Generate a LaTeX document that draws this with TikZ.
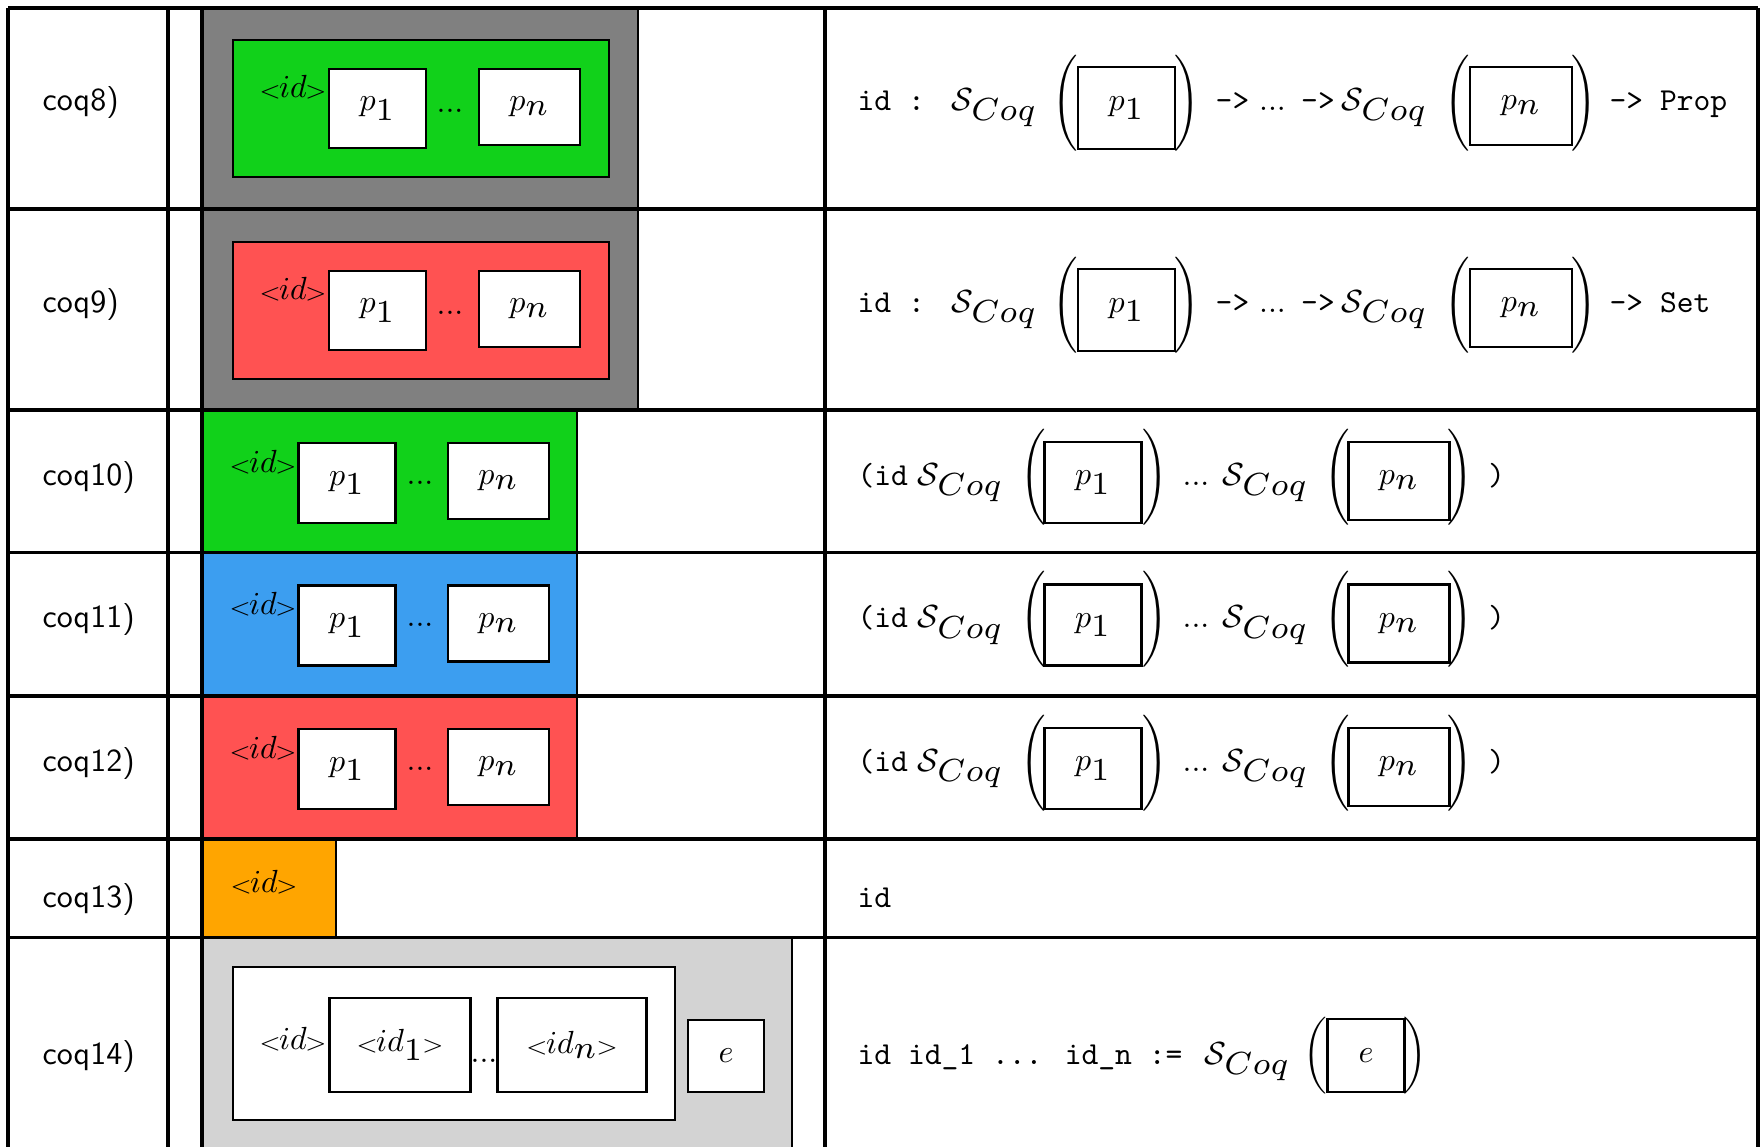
\documentclass[tikz,border=0pt]{standalone}
\usepackage{fontspec}
\usepackage{graphicx}
\definecolor{cgreen}{RGB}{17,209,26}
\definecolor{cred}{RGB}{255,82,82}
\definecolor{cblue}{RGB}{60,158,240}
\definecolor{corange}{RGB}{255,165,0}
\definecolor{cgray}{RGB}{128,128,128}
\definecolor{clight}{RGB}{211,211,211}
\tikzset{
  gridline/.style={line width=0.95pt},
  cbox/.style={draw, line width=0.9pt, inner sep=0pt, rectangle},
  wbox/.style={cbox, fill=white},
  sz/.style 2 args={minimum width=#1*0.3125pt, minimum height=#2*0.3125pt},
  lbl/.style={anchor=base west, inner sep=0pt, font=\sffamily},
  code/.style={anchor=base west, inner sep=0pt, font=\ttfamily},
  codec/.style={anchor=base, inner sep=0pt, font=\ttfamily},
  mth/.style={anchor=base west, inner sep=0pt},
  txt/.style={anchor=base, inner sep=0pt},
  paren/.style={anchor=center, inner sep=0pt},
}
\newcommand{\bsub}[1]{\scalebox{1.43}{$\scriptstyle #1$}}
\newcommand{\SC}{$\mathcal{S}_{\bsub{Coq}}$}
\newcommand{\langl}{\kern-0.8pt\scalebox{1.1}[0.92]{$\scriptstyle <$}\kern-0.6pt}
\newcommand{\rangl}{\kern-0.6pt\scalebox{1.1}[0.92]{$\scriptstyle >$}\kern-0.8pt}
\newcommand{\ID}{\langl$id$\rangl}
\begin{document}
\begin{tikzpicture}[x=0.3125pt, y=-0.3125pt]
\useasboundingbox (0,0) rectangle (1761,1147);
\clip (0,0) rectangle (1761,1147);
\fill[white] (0,0) rectangle (1761,1147);

% rows coq8, coq9
\foreach \R/\c/\k/\t in {8/cgreen/8/Prop, 210/cred/9/Set}{
  \node[cbox, fill=cgray, sz={436}{201}] (outer\k) at (420,\R+100.5) {};
  \node[cbox, fill=\c, sz={376}{137}] (inner\k) at (421,\R+100.5) {};
  \node[txt] (id\k) at (293,\R+89) {\ID};
  \node[wbox, sz={97}{79}] (pa\k) at (377.5,\R+100.5) {$p_{\bsub{1}}$};
  \node[txt] (dots\k) at (450,\R+104) {...};
  \node[wbox, sz={101}{76}] (pb\k) at (529.5,\R+99) {$p_{\bsub{n}}$};
  \node[lbl] (lab\k) at (42,\R+102) {coq\k)};
  % right column
  \node[code] (rid\k) at (857,\R+102) {id :};
  \node[mth] (sa\k) at (951,\R+102) {\SC};
  \node[paren] (lpa\k) at (1065,\R+95) {$\Bigg($};
  \node[wbox, sz={97}{82}] (ra\k) at (1126.5,\R+100) {$p_{\bsub{1}}$};
  \node[paren] (rpa\k) at (1187.5,\R+95) {$\Bigg)$};
  \node[codec] (arA\k) at (1232.5,\R+102) {->};
  \node[txt] (rdots\k) at (1272.5,\R+102) {...};
  \node[codec] (arB\k) at (1318,\R+102) {->};
  \node[mth] (sb\k) at (1341,\R+102) {\SC};
  \node[paren] (lpb\k) at (1457.5,\R+95) {$\Bigg($};
  \node[wbox, sz={102}{78}] (rb\k) at (1521,\R+98) {$p_{\bsub{n}}$};
  \node[paren] (rpb\k) at (1584,\R+95) {$\Bigg)$};
  \node[code] (res\k) at (1609,\R+102) {-> \t};
}

% rows coq10, coq11, coq12
\foreach \R/\c/\k in {410/cgreen/10, 552.5/cblue/11, 696/cred/12}{
  \node[cbox, fill=\c, sz={375}{143}] (box\k) at (389.5,\R+71.5) {};
  \node[txt] (id\k) at (263,\R+62) {\ID};
  \node[wbox, sz={97.5}{80}] (pa\k) at (347,\R+73) {$p_{\bsub{1}}$};
  \node[txt] (dots\k) at (420,\R+74) {...};
  \node[wbox, sz={101}{76}] (pb\k) at (498.5,\R+71) {$p_{\bsub{n}}$};
  \node[lbl] (lab\k) at (42,\R+75) {coq\k)};
  % right column
  \node[code] (rid\k) at (857,\R+75) {(id};
  \node[mth] (sa\k) at (917,\R+75) {\SC};
  \node[paren] (lpa\k) at (1033,\R+67) {$\Bigg($};
  \node[wbox, sz={97.5}{81}] (ra\k) at (1093,\R+72.5) {$p_{\bsub{1}}$};
  \node[paren] (rpa\k) at (1155,\R+67) {$\Bigg)$};
  \node[txt] (rdots\k) at (1196,\R+75) {...};
  \node[mth] (sb\k) at (1222,\R+75) {\SC};
  \node[paren] (lpb\k) at (1337,\R+67) {$\Bigg($};
  \node[wbox, sz={101.5}{78}] (rb\k) at (1399,\R+71) {$p_{\bsub{n}}$};
  \node[paren] (rpb\k) at (1460,\R+67) {$\Bigg)$};
  \node[codec] (close\k) at (1496.5,\R+75) {)};
}

% row coq13
\node[cbox, fill=corange, sz={134}{98.5}] (box13) at (269,888.25) {};
\node[txt] (id13) at (264,892) {\ID};
\node[lbl] (lab13) at (42,907) {coq13)};
\node[code] (rid13) at (857,907) {id};

% row coq14
\node[cbox, fill=clight, sz={590}{262.5}] (outer14) at (497,1068.75) {};
\node[wbox, sz={442}{153}] (inner14) at (454,1043.5) {};
\node[txt] (id14) at (293,1049) {\ID};
\node[wbox, sz={141.5}{94}] (ida14) at (400,1045) {\langl$id_{\bsub{1}}$\rangl};
\node[txt] (dots14) at (484,1062) {...};
\node[wbox, sz={148.5}{94}] (idb14) at (572,1045) {\langl$id_{\bsub{n}}$\rangl};
\node[wbox, sz={76}{72}] (e14) at (726,1056) {$e$};
\node[lbl] (lab14) at (42,1064) {coq14)};
\node[code] (rid14) at (857,1064) {id id\_1 ... id\_n :=};
\node[mth] (sa14) at (1204,1064) {\SC};
\node[paren] (lpa14) at (1315.5,1056) {$\bigg($};
\node[wbox, sz={76.5}{73}] (re14) at (1366,1055.5) {$e$};
\node[paren] (rpa14) at (1415,1056) {$\bigg)$};

% table grid
\foreach \y in {8,209,410,552.5,696,839,937.5}{
  \draw[gridline] (8,\y) -- (1758,\y);
}
\foreach \x in {8,168,202,825,1758}{
  \draw[gridline] (\x,8) -- (\x,1160);
}
\end{tikzpicture}
\end{document}
